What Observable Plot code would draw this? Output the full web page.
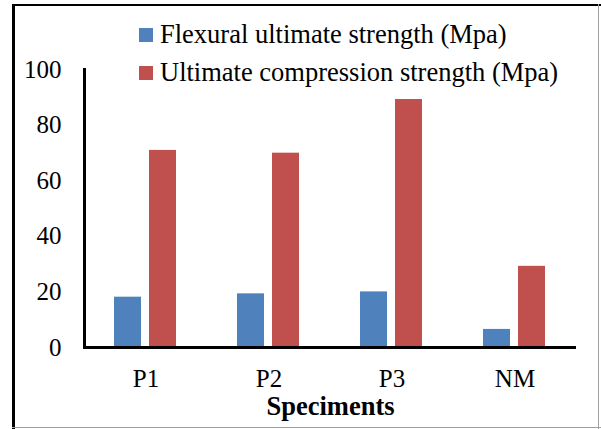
<!DOCTYPE html>
<html>
<head>
<meta charset="utf-8">
<script src="https://cdn.jsdelivr.net/npm/d3@7"></script>
<script src="https://cdn.jsdelivr.net/npm/@observablehq/plot@0.6"></script>
<style>
  html, body { margin: 0; padding: 0; background: #fff; }
  #wrap { position: relative; width: 601px; height: 429px; overflow: hidden; font-family: "Liberation Serif", "Times New Roman", serif; }
  #wrap svg { position: absolute; left: 0; top: 0; }
  .ln { position: absolute; }
  .leg { position: absolute; font-size: 26.5px; line-height: 26px; color: #000; white-space: nowrap; }
  .sw { position: absolute; width: 14px; height: 14px; }
</style>
</head>
<body>
<div id="wrap">
  <div class="ln" style="left:12px;top:4px;width:589px;height:2px;background:#000"></div>
  <div class="ln" style="left:12px;top:4px;width:3px;height:425px;background:#000"></div>
  <div class="ln" style="left:598px;top:4px;width:1px;height:425px;background:#a0a0a0"></div>
  <div class="ln" style="left:12px;top:427px;width:589px;height:1px;background:#a0a0a0"></div>
  <div id="legend"></div>
</div>
<script>
const categories = ["P1", "P2", "P3", "NM"];
const seriesNames = ["Flexural ultimate strength (Mpa)", "Ultimate compression strength (Mpa)"];
const flexural = [18.1, 19.3, 20.0, 6.5];
const compression = [70.9, 69.9, 89.2, 29.2];
const yTicks = [0, 20, 40, 60, 80, 100];
const colors = ["#4F81BD", "#C0504D"];

const data = [];
categories.forEach((c, i) => {
  data.push({cat: c, series: seriesNames[0], value: flexural[i]});
  data.push({cat: c, series: seriesNames[1], value: compression[i]});
});

const legend = document.getElementById("legend");
seriesNames.forEach((s, i) => {
  const top = [28, 66][i];
  const sw = document.createElement("div");
  sw.className = "sw";
  sw.style.left = "139px";
  sw.style.top = top + "px";
  sw.style.background = colors[i];
  legend.appendChild(sw);
  const t = document.createElement("div");
  t.className = "leg";
  t.style.left = "160px";
  t.style.top = (top - 7) + "px";
  t.textContent = s;
  legend.appendChild(t);
});

const chart = Plot.plot({
  width: 601,
  height: 429,
  marginTop: 69,
  marginBottom: 82,
  marginLeft: 83,
  marginRight: 24,
  style: {fontFamily: "'Liberation Serif', 'Times New Roman', serif", fontSize: "25px", background: "transparent", color: "#000"},
  fx: {domain: categories, padding: 0},
  x: {domain: seriesNames, paddingInner: 0.222, paddingOuter: 0.826, axis: null},
  y: {domain: [0, 100]},
  color: {domain: seriesNames, range: colors},
  marks: [
    Plot.barY(data, {fx: "cat", x: "series", y: "value", fill: "series"}),
    Plot.axisY({ticks: yTicks, tickSize: 0, tickPadding: 23, fontSize: 25, label: null, tickFormat: d => String(d)}),
    Plot.axisFx({anchor: "bottom", tickSize: 0, tickPadding: 22, fontSize: 25, label: null}),
    Plot.ruleY([0], {stroke: "#000", strokeWidth: 3}),
    Plot.frame({anchor: "left", facetAnchor: "left", stroke: "#000", strokeWidth: 3}),
    Plot.text(["Speciments"], {facet: "super", frameAnchor: "bottom", dy: 67, text: d => d, fontSize: 26.5, fontWeight: "bold", fill: "#000"})
  ]
});
document.getElementById("wrap").appendChild(chart);
</script>
</body>
</html>
